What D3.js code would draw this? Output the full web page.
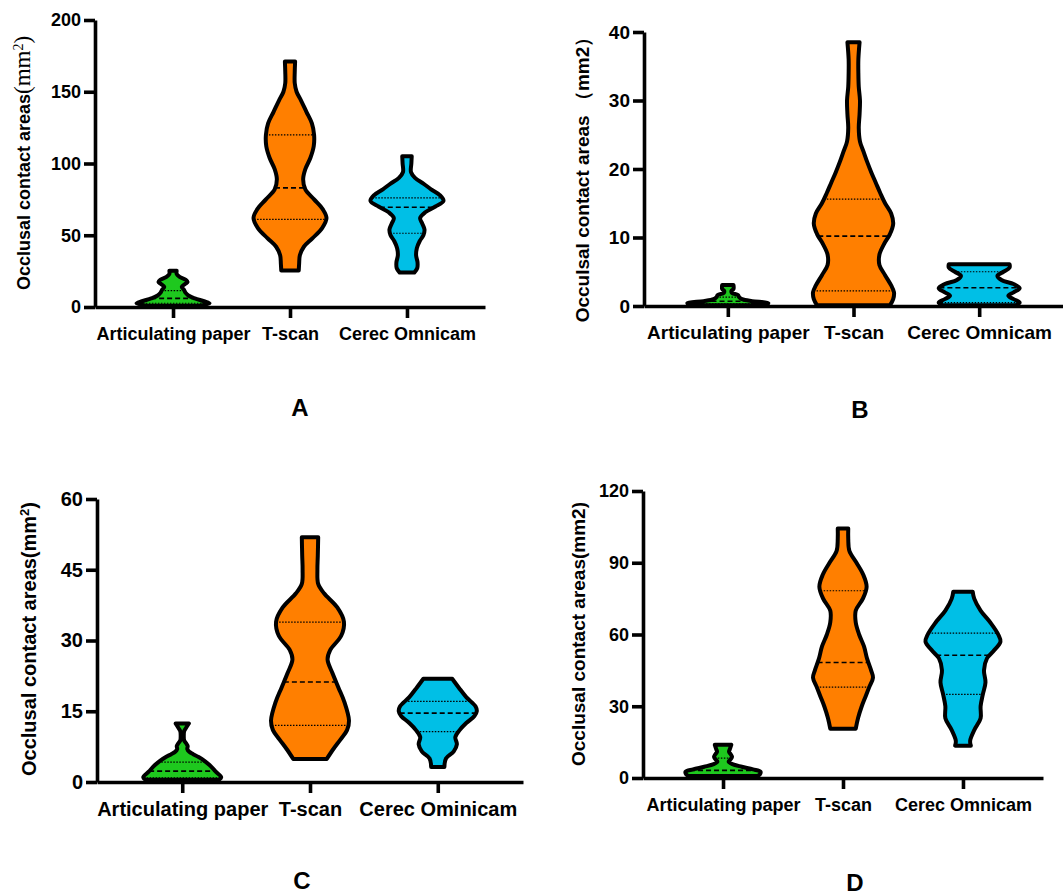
<!DOCTYPE html>
<html>
<head>
<meta charset="utf-8">
<script src="https://cdn.jsdelivr.net/npm/d3@7"></script>
<style>
  body { margin: 0; background: #fff; }
  svg { display: block; font-family: "Liberation Sans", Arial, sans-serif; }
</style>
</head>
<body>
<script>
// categories (panel C spells the last one differently)
const groups = ["Articulating paper", "T-scan", "Cerec Omnicam"];
const groupsC = ["Articulating paper", "T-scan", "Cerec Ominicam"];

// y ticks
const ticksA = [0, 50, 100, 150, 200];
const ticksB = [0, 10, 20, 30, 40];
const ticksC = [0, 15, 30, 45, 60];
const ticksD = [0, 30, 60, 90, 120];

// violin outlines: [value, relative half width]
const aPaper = [[0.8, .7], [2.5, 1], [4, .85], [6, .6], [8, .42], [10, .34], [12, .3], [14, .24], [16, .33], [17.5, .4], [19, .35], [21, .18], [23, .1], [25.3, .1]];
const aTscan = [[25.5, .24], [30, .25], [36, .27], [42, .38], [48, .62], [55, .88], [62, 1], [68, .9], [75, .66], [82, .42], [89, .36], [96, .42], [104, .56], [112, .65], [120, .66], [128, .6], [136, .45], [144, .3], [150, .18], [156, .13], [164, .13], [171, .14]];
const aCerec = [[24, .2], [27, .28], [31, .29], [36, .25], [41, .27], [46, .35], [50, .45], [54, .48], [58, .42], [62, .36], [66, .5], [70, .78], [74, 1], [78, .9], [82, .66], [86, .45], [90, .22], [94, .11], [100, .12], [105, .13]];

const bPaper = [[0.1, .95], [0.4, 1], [0.7, .6], [1.0, .35], [1.3, .28], [1.6, .25], [1.9, .1], [2.2, .09], [2.5, .14], [3.05, .14]];
const bTscan = [[0.1, .9], [1, .98], [2, 1], [3, .93], [4.5, .78], [6, .64], [7.5, .64], [9, .75], [10.5, .9], [12, .98], [13.5, .93], [15, .78], [16.5, .66], [18, .55], [19.5, .44], [21, .34], [22.5, .25], [24, .16], [26, .13], [28, .15], [30, .16], [32, .13], [34, .12], [36, .12], [38.5, .15]];
const bCerec = [[0.1, .9], [0.5, 1], [1.0, .85], [1.5, .72], [2.0, .85], [2.6, 1], [3.2, .85], [3.8, .55], [4.4, .45], [5.0, .6], [5.6, .75], [6.1, .75]];

const cPaper = [[0.5, .95], [1.0, 1], [2.2, .86], [3.6, .7], [4.5, .57], [5.3, .42], [5.9, .28], [6.4, .18], [7.0, .13], [7.6, .14], [8.2, .1], [8.8, .05], [9.8, .04], [10.8, .05], [11.5, .1], [12.4, .17]];
const cTscan = [[4.9, .43], [7, .6], [9, .78], [11, .95], [13, 1], [17, .88], [20, .73], [23, .58], [26, .45], [28, .52], [31, .8], [34, .87], [37, .7], [40, .36], [42, .21], [45, .19], [48, .2], [51.9, .21]];
const cCerec = [[3.2, .17], [5, .21], [6.5, .41], [8, .49], [9.5, .45], [11, .56], [12.5, .73], [14, .94], [15, 1], [16, .97], [18, .73], [20, .54], [21.9, .37]];

const dPaper = [[0.8, .9], [1.5, .98], [2.6, 1], [3.6, .8], [4.7, .5], [5.8, .25], [6.8, .15], [7.8, .2], [8.9, .24], [10, .2], [11, .16], [12, .18], [13.9, .22]];
const dTscan = [[20.6, .34], [25, .4], [30, .5], [34, .6], [38, .7], [42, .8], [45, .75], [50, .64], [55, .56], [60, .43], [65, .34], [70, .34], [75, .53], [80, .63], [85, .54], [90, .36], [95, .17], [100, .14], [104.3, .14]];
const dCerec = [[13.5, .21], [15.5, .19], [20, .3], [25, .47], [30, .47], [35, .53], [40, .6], [45, .56], [50, .64], [53, .81], [57, 1], [60, .94], [65, .73], [70, .47], [75, .3], [77.9, .26]];

// quartiles per group: [Q1, median, Q3]
const quartA = [[2.6, 6.0, 11.4], [61, 83, 120], [51.4, 69.5, 76]];
const quartB = [[0.3, 0.7, 1.3], [2.2, 10.2, 15.6], [0.5, 2.67, 5.0]];
const quartC = [[0.9, 2.3, 4.2], [12.0, 21.2, 33.9], [10.7, 14.6, 17.1]];
const quartD = [[1.4, 3.2, 8.3], [38, 48.3, 78.3], [35, 51.3, 60.6]];

const fills = ["#1ec81e", "#ff7f00", "#00bfe6"];

const width = 1063, height = 896;

const svg = d3.select("body").append("svg")
    .attr("width", width)
    .attr("height", height);

// layout of the four panels
const panels = [
    { cats: groups, ticks: ticksA, violins: [aPaper, aTscan, aCerec], quart: quartA,
      left: 95, right: 485, bottom: 307, top: 20, half: 36.5, font: 18,
      letterPos: [300, 416], labelPos: [24, 163], label: "A" },
    { cats: groups, ticks: ticksB, violins: [bPaper, bTscan, bCerec], quart: quartB,
      left: 644, right: 1063, bottom: 306, top: 32, half: 40.5, font: 19,
      letterPos: [860, 418], labelPos: [582, 175], label: "B" },
    { cats: groupsC, ticks: ticksC, violins: [cPaper, cTscan, cCerec], quart: quartC,
      left: 97, right: 523, bottom: 782, top: 499, half: 39, font: 20,
      letterPos: [302, 889], labelPos: [29, 639], label: "C" },
    { cats: groups, ticks: ticksD, violins: [dPaper, dTscan, dCerec], quart: quartD,
      left: 643, right: 1043, bottom: 778, top: 491, half: 37.5, font: 18,
      letterPos: [855, 891], labelPos: [578, 634], label: "D" }
];

function widthAt(profile, v) {
    for (let i = 0; i < profile.length - 1; i++) {
        const a = profile[i], b = profile[i + 1];
        if (v >= a[0] && v <= b[0]) {
            const t = (v - a[0]) / (b[0] - a[0]);
            return a[1] + t * (b[1] - a[1]);
        }
    }
    return v < profile[0][0] ? profile[0][1] : profile[profile.length - 1][1];
}

panels.forEach(p => {
    const g = svg.append("g");

    const x = d3.scalePoint()
        .domain(p.cats)
        .range([p.left, p.right])
        .padding(0.667);

    const y = d3.scaleLinear()
        .domain([0, p.ticks[p.ticks.length - 1]])
        .range([p.bottom, p.top]);

    const w = d3.scaleLinear().domain([0, 1]).range([0, p.half]);

    // violins
    p.cats.forEach((c, i) => {
        const cx = x(c);
        const prof = p.violins[i];
        const area = d3.area()
            .curve(d3.curveCatmullRom.alpha(0.5))
            .y(d => y(d[0]))
            .x0(d => cx - w(d[1]))
            .x1(d => cx + w(d[1]));

        g.append("path")
            .attr("d", area(prof))
            .attr("fill", fills[i]);

        p.quart[i].forEach((q, k) => {
            const hw = w(widthAt(prof, q));
            g.append("line")
                .attr("x1", cx - hw).attr("x2", cx + hw)
                .attr("y1", y(q)).attr("y2", y(q))
                .attr("stroke", "#000")
                .attr("stroke-width", k === 1 ? 1.6 : 1.2)
                .attr("stroke-dasharray", k === 1 ? "5,3" : "1.5,1.5");
        });

        g.append("path")
            .attr("d", area(prof))
            .attr("fill", "none")
            .attr("stroke", "#000")
            .attr("stroke-width", 4)
            .attr("stroke-linejoin", "round");
    });

    // axes
    const yAxis = g.append("g")
        .attr("transform", `translate(${p.left},0)`)
        .call(d3.axisLeft(y).tickValues(p.ticks).tickSize(11).tickSizeOuter(0).tickPadding(3));

    const xAxis = g.append("g")
        .attr("transform", `translate(0,${p.bottom})`)
        .call(d3.axisBottom(x).tickSize(11).tickSizeOuter(0).tickPadding(9));

    [yAxis, xAxis].forEach(ax => {
        ax.select(".domain").attr("stroke", "#000").attr("stroke-width", 3.6);
        ax.selectAll(".tick line").attr("stroke", "#000").attr("stroke-width", 3.6);
        ax.selectAll(".tick text")
            .attr("fill", "#000")
            .style("font-family", '"Liberation Sans", Arial, sans-serif')
            .style("font-size", p.font + "px")
            .style("font-weight", "bold");
    });

    // panel letter
    g.append("text")
        .attr("x", p.letterPos[0])
        .attr("y", p.letterPos[1])
        .attr("text-anchor", "middle")
        .style("font-size", "24px")
        .style("font-weight", "bold")
        .text(p.label);
});

// y axis titles
function yTitle(pos, size) {
    return svg.append("text")
        .attr("transform", `translate(${pos[0]},${pos[1]}) rotate(-90)`)
        .attr("text-anchor", "middle")
        .attr("dy", "0.35em")
        .style("font-size", size + "px")
        .style("font-weight", "bold");
}

const tA = yTitle(panels[0].labelPos, 18);
tA.append("tspan").text("Occlusal contact areas");
tA.append("tspan").style("font-family", '"Liberation Serif", "Times New Roman", serif')
    .style("font-weight", "normal").style("font-size", "23px").text("(mm");
tA.append("tspan").style("font-family", '"Liberation Serif", serif')
    .style("font-weight", "normal").style("font-size", "14px").attr("dy", "-0.5em").text("2");
tA.append("tspan").style("font-family", '"Liberation Serif", serif')
    .style("font-weight", "normal").style("font-size", "23px").attr("dy", "0.3em").text(")");

yTitle(panels[1].labelPos, 19).text("Occulsal contact areas （mm2）");

const tC = yTitle(panels[2].labelPos, 20);
tC.append("tspan").text("Occlusal contact areas(mm");
tC.append("tspan").style("font-size", "13px").attr("dy", "-0.55em").text("2");
tC.append("tspan").attr("dy", "0.35em").text(")");

yTitle(panels[3].labelPos, 19).text("Occlusal contact areas(mm2)");
</script>
</body>
</html>
